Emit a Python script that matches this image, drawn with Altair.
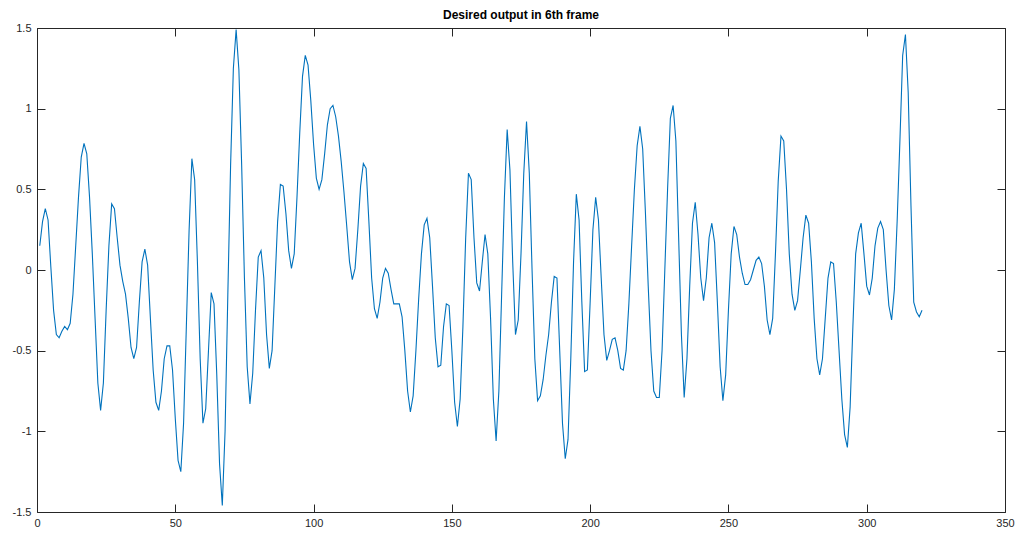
import altair as alt
import pandas as pd

# ---- data ----
sample_index = list(range(1, 321))

output_values = [
    0.15, 0.30, 0.38, 0.31, 0.02, -0.25, -0.40, -0.42, -0.38, -0.35,
    -0.37, -0.33, -0.15, 0.15, 0.45, 0.70, 0.785, 0.72, 0.45, 0.10,
    -0.30, -0.70, -0.87, -0.70, -0.25, 0.15, 0.41, 0.38, 0.20, 0.03,
    -0.07, -0.15, -0.30, -0.48, -0.55, -0.48, -0.20, 0.05, 0.13, 0.03,
    -0.30, -0.62, -0.82, -0.87, -0.75, -0.55, -0.47, -0.47, -0.62, -0.92,
    -1.18, -1.25, -0.95, -0.35, 0.25, 0.69, 0.56, 0.05, -0.55, -0.95,
    -0.86, -0.50, -0.14, -0.21, -0.65, -1.20, -1.46, -1.00, -0.15, 0.65,
    1.25, 1.49, 1.24, 0.65, -0.05, -0.60, -0.83, -0.64, -0.25, 0.08,
    0.12, -0.05, -0.40, -0.61, -0.50, -0.10, 0.30, 0.53, 0.52, 0.35,
    0.12, 0.01, 0.10, 0.45, 0.85, 1.20, 1.33, 1.27, 1.05, 0.78,
    0.57, 0.50, 0.56, 0.72, 0.90, 1.00, 1.02, 0.95, 0.83, 0.67,
    0.48, 0.27, 0.05, -0.06, 0.01, 0.25, 0.52, 0.66, 0.63, 0.30,
    -0.05, -0.24, -0.30, -0.20, -0.05, 0.01, -0.02, -0.12, -0.21, -0.21,
    -0.21, -0.29, -0.50, -0.75, -0.88, -0.78, -0.50, -0.18, 0.10, 0.28,
    0.32, 0.20, -0.10, -0.42, -0.60, -0.59, -0.35, -0.21, -0.22, -0.50,
    -0.82, -0.97, -0.80, -0.35, 0.20, 0.60, 0.56, 0.20, -0.08, -0.13,
    0.05, 0.22, 0.10, -0.30, -0.80, -1.06, -0.75, -0.15, 0.45, 0.87,
    0.62, 0.05, -0.40, -0.31, 0.10, 0.60, 0.92, 0.60, 0.00, -0.55,
    -0.81, -0.78, -0.68, -0.53, -0.40, -0.20, -0.04, -0.05, -0.50, -0.95,
    -1.17, -1.05, -0.55, 0.05, 0.47, 0.31, -0.20, -0.63, -0.62, -0.20,
    0.25, 0.45, 0.31, -0.05, -0.40, -0.56, -0.50, -0.43, -0.42, -0.50,
    -0.61, -0.62, -0.50, -0.21, 0.15, 0.50, 0.77, 0.89, 0.75, 0.35,
    -0.10, -0.50, -0.75, -0.79, -0.79, -0.50, 0.00, 0.50, 0.94, 1.02,
    0.80, 0.20, -0.40, -0.79, -0.55, -0.10, 0.29, 0.42, 0.22, -0.05,
    -0.19, -0.05, 0.20, 0.29, 0.17, -0.20, -0.60, -0.81, -0.65, -0.25,
    0.10, 0.27, 0.22, 0.08, -0.02, -0.09, -0.09, -0.06, 0.00, 0.06,
    0.08, 0.04, -0.10, -0.31, -0.40, -0.30, 0.10, 0.55, 0.83, 0.80,
    0.50, 0.10, -0.15, -0.25, -0.19, 0.00, 0.20, 0.34, 0.29, 0.05,
    -0.30, -0.55, -0.65, -0.55, -0.30, -0.05, 0.05, 0.04, -0.20, -0.50,
    -0.80, -1.02, -1.10, -0.85, -0.35, 0.10, 0.23, 0.29, 0.10, -0.10,
    -0.155, -0.05, 0.15, 0.26, 0.30, 0.25, 0.00, -0.22, -0.31, -0.12,
    0.30, 0.80, 1.33, 1.46, 1.10, 0.40, -0.20, -0.26, -0.29, -0.25,
]

x_ticks = [0, 50, 100, 150, 200, 250, 300, 350]
y_ticks = [-1.5, -1, -0.5, 0, 0.5, 1, 1.5]
title_text = "Desired output in 6th frame"

assert len(sample_index) == len(output_values)

df = pd.DataFrame({"n": sample_index, "v": output_values})

# ---- style ----
W, H = 968, 484
FG = "#262626"
FONT = "Liberation Sans"
TICK = 8

xscale = alt.Scale(domain=[0, 350], nice=False, zero=False)
yscale = alt.Scale(domain=[-1.5, 1.5], nice=False, zero=False)

base = alt.Chart(df)

# main line with labelled axes (no outward ticks)
line = base.mark_line(color="#0072BD", strokeWidth=1.1).encode(
    x=alt.X("n:Q", scale=xscale, axis=alt.Axis(
        orient="bottom", values=x_ticks, title=None, domain=False,
        ticks=False, tickSize=0, grid=False, labelFont=FONT, labelFontSize=11,
        labelColor=FG, labelPadding=5, labelFlush=False, labelOverlap=False)),
    y=alt.Y("v:Q", scale=yscale, axis=alt.Axis(
        orient="left", values=y_ticks, title=None, domain=False,
        ticks=False, tickSize=0, grid=False, labelFont=FONT, labelFontSize=11,
        labelColor=FG, labelPadding=6, labelOverlap=False,
        labelExpr="datum.value + ''")),
)

# inward ticks on bottom and left edges
ticks_a = base.mark_line(strokeOpacity=0).encode(
    x=alt.X("n:Q", scale=xscale, axis=alt.Axis(
        orient="top", offset=-H, values=x_ticks, title=None, labels=False,
        domain=False, ticks=True, tickSize=TICK, tickColor=FG, grid=False)),
    y=alt.Y("v:Q", scale=yscale, axis=alt.Axis(
        orient="right", offset=-W, values=y_ticks, title=None, labels=False,
        domain=False, ticks=True, tickSize=TICK, tickColor=FG, grid=False)),
)

# inward ticks on top and right edges
ticks_b = base.mark_line(strokeOpacity=0).encode(
    x=alt.X("n:Q", scale=xscale, axis=alt.Axis(
        orient="bottom", offset=-H, values=x_ticks, title=None, labels=False,
        domain=False, ticks=True, tickSize=TICK, tickColor=FG, grid=False)),
    y=alt.Y("v:Q", scale=yscale, axis=alt.Axis(
        orient="left", offset=-W, values=y_ticks, title=None, labels=False,
        domain=False, ticks=True, tickSize=TICK, tickColor=FG, grid=False)),
)

chart = (
    alt.layer(line, ticks_a, ticks_b)
    .resolve_axis(x="independent", y="independent")
    .properties(
        width=W,
        height=H,
        title=alt.TitleParams(title_text, font=FONT, fontSize=12,
                              fontWeight="bold", color="#000000",
                              anchor="middle", offset=0),
        padding={"left": 29, "top": 20, "right": 11, "bottom": 15},
        autosize=alt.AutoSizeParams(type="none"),
        background="white",
    )
    .configure_view(stroke=FG, strokeWidth=1)
)

chart.save("out.html", embed_options={"renderer": "svg", "actions": False})
